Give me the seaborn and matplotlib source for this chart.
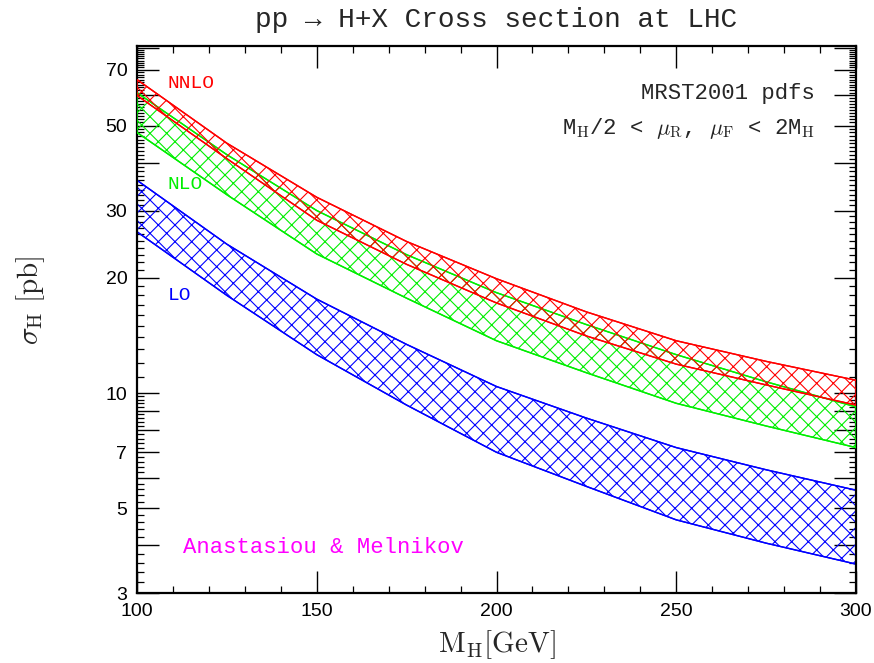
import numpy as np
import pandas as pd
import matplotlib
matplotlib.use("Agg")
import matplotlib.pyplot as plt
import matplotlib.ticker as mticker
import seaborn as sns

# ---- data ----
mh = [100, 125, 150, 175, 200, 225, 250, 275, 300]
nnlo_hi = [66.0, 45.0, 32.5, 24.9, 19.9, 16.3, 13.7, 12.1, 10.8]
nnlo_lo = [60.0, 41.0, 28.3, 21.7, 17.2, 14.1, 11.9, 10.5, 9.3]
nlo_hi = [61.0, 42.0, 30.0, 23.0, 18.3, 15.1, 12.6, 10.7, 9.2]
nlo_lo = [48.0, 33.0, 23.1, 17.7, 13.7, 11.3, 9.4, 8.2, 7.2]
lo_hi = [36.0, 24.5, 17.6, 13.4, 10.4, 8.6, 7.2, 6.3, 5.57]
lo_lo = [26.4, 18.0, 12.6, 9.3, 7.0, 5.7, 4.66, 4.05, 3.57]

ytick_vals = [3, 5, 7, 10, 20, 30, 50, 70]
xtick_vals = [100, 150, 200, 250, 300]

bands = [
    ("LO", lo_lo, lo_hi, "#0000ff"),
    ("NLO", nlo_lo, nlo_hi, "#00ee00"),
    ("NNLO", nnlo_lo, nnlo_hi, "#ff0000"),
]

sns.set_theme(style="ticks")
plt.rcParams["mathtext.fontset"] = "cm"
plt.rcParams["hatch.linewidth"] = 0.8

fig = plt.figure(figsize=(8.74, 6.63), dpi=100)
ax = fig.add_axes([137 / 874, 1 - 593 / 663, 719 / 874, 547 / 663])

for i, (name, lo, hi, col) in enumerate(bands):
    df = pd.DataFrame({"mh": mh, "lo": lo, "hi": hi})
    ax.fill_between(df["mh"], df["lo"], df["hi"], facecolor="none",
                    edgecolor=col, hatch="xx", linewidth=1.0, zorder=2 + i)
    sns.lineplot(data=df, x="mh", y="hi", color=col, linewidth=1.0, ax=ax, zorder=2 + i)
    sns.lineplot(data=df, x="mh", y="lo", color=col, linewidth=1.0, ax=ax, zorder=2 + i)

ax.set_yscale("log")
ax.set_xlim(100, 300)
ax.set_ylim(3, 80.8)

# ticks
ymaj = list(range(3, 11)) + list(range(20, 81, 10))
ymin = [v / 10 for v in range(30, 100, 2) if v % 10 != 0] + [v for v in range(11, 80) if v % 10 != 0]
ax.yaxis.set_major_locator(mticker.FixedLocator(ymaj))
ax.yaxis.set_minor_locator(mticker.FixedLocator(ymin))
ax.yaxis.set_major_formatter(mticker.FuncFormatter(
    lambda v, p: f"{int(round(v))}" if int(round(v)) in ytick_vals else ""))
ax.yaxis.set_minor_formatter(mticker.NullFormatter())
ax.xaxis.set_major_locator(mticker.FixedLocator(xtick_vals))
ax.xaxis.set_minor_locator(mticker.MultipleLocator(10))
ax.xaxis.set_major_formatter(mticker.FuncFormatter(lambda v, p: f"{int(v)}"))
ax.xaxis.set_minor_formatter(mticker.NullFormatter())

ax.tick_params(which="both", direction="in", top=True, right=True, colors="black",
               labelfontfamily="Liberation Sans", labelsize=14)
ax.tick_params(which="major", length=16, width=1.0, pad=7)
ax.tick_params(which="minor", length=5, width=0.9)
for s in ax.spines.values():
    s.set_linewidth(1.6)
    s.set_color("black")

ax.set_xlabel(r"$\mathrm{M_H[GeV]}$", fontsize=21, labelpad=6)
ax.set_ylabel(r"$\sigma_\mathrm{H}\ \mathrm{[pb]}$", fontsize=21)
ax.yaxis.set_label_coords(-0.125, 0.536)

mono = "Liberation Mono"
fig.text(0.5 * (137 + 856) / 874, 1 - 20 / 663, "pp → H+X Cross section at LHC",
         ha="center", va="center", fontsize=20, family=[mono, "DejaVu Sans"])

ax.text(0.043, 0.932, "NNLO", color="#ff0000", transform=ax.transAxes,
        fontsize=14, family=mono, va="center", ha="left")
ax.text(0.043, 0.746, "NLO", color="#00ee00", transform=ax.transAxes,
        fontsize=14, family=mono, va="center", ha="left")
ax.text(0.043, 0.543, "LO", color="#0000ff", transform=ax.transAxes,
        fontsize=14, family=mono, va="center", ha="left")
ax.text(0.943, 0.914, "MRST2001 pdfs", transform=ax.transAxes,
        fontsize=16, family=mono, va="center", ha="right")
ax.text(0.943, 0.850, r"M$_\mathrm{H}$/2 < $\mu_\mathrm{R}$, $\mu_\mathrm{F}$ < 2M$_\mathrm{H}$",
        transform=ax.transAxes, fontsize=16, family=mono, va="center", ha="right")
ax.text(0.064, 0.084, "Anastasiou & Melnikov", color="#ff00ff", transform=ax.transAxes,
        fontsize=16, family=mono, va="center", ha="left")

fig.savefig("out.png", dpi=100)
